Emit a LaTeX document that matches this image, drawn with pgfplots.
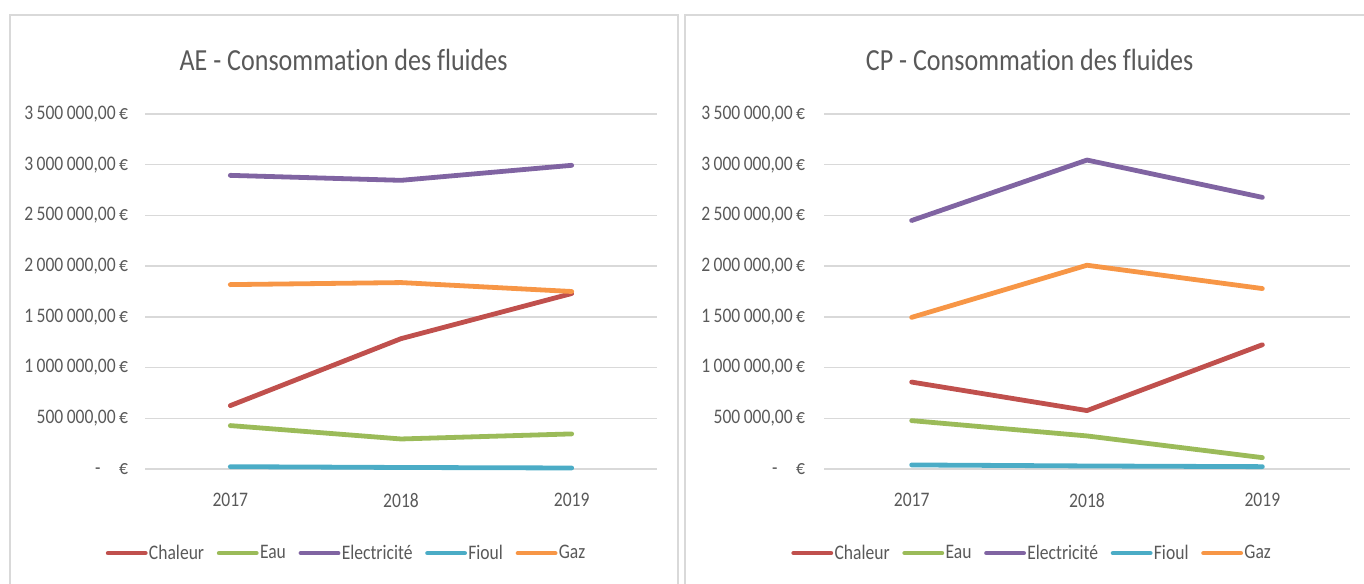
\documentclass[border=0pt]{standalone}
\usepackage{pgfplots}
\pgfplotsset{compat=1.18}
\usepackage{fontspec}
\setmainfont{Carlito}[FakeStretch=0.85, Ligatures={NoCommon}]
\definecolor{txt}{HTML}{595959}
\definecolor{grd}{HTML}{D9D9D9}
\definecolor{cChal}{HTML}{C0504D}
\definecolor{cEau}{HTML}{9BBB59}
\definecolor{cElec}{HTML}{8064A2}
\definecolor{cFioul}{HTML}{4BACC6}
\definecolor{cGaz}{HTML}{F79646}
\pgfplotsset{
  panel/.style={
    scale only axis,
    height=266.25pt,
    xmin=-0.5, xmax=2.5,
    ymin=0, ymax=3500000,
    scaled y ticks=false,
    axis line style={draw=none},
    major tick length=0pt,
    xtick={0,1,2},
    xticklabels={2017,2018,2019},
    ytick={0,500000,1000000,1500000,2000000,2500000,3000000,3500000},
    yticklabels={{-\hspace{0.9em}€},{500\,000,00\,€},{1\,000\,000,00\,€},{1\,500\,000,00\,€},{2\,000\,000,00\,€},{2\,500\,000,00\,€},{3\,000\,000,00\,€},{3\,500\,000,00\,€}},
    ymajorgrids,
    grid style={grd, line width=1.1pt},
    /pgf/number format/assume math mode=true,
    tick label style={font=\fontsize{15.5pt}{18pt}\selectfont, text=txt},
    xticklabel style={anchor=north, inner sep=0pt, yshift=-18pt},
    title style={font=\fontsize{23pt}{26pt}\selectfont, text=txt, anchor=base, inner sep=0pt},
    legend columns=-1,
    legend style={draw=none, fill=none, font=\fontsize{15.5pt}{18pt}\selectfont, text=txt, anchor=center,
      nodes={inner sep=1pt},
      /tikz/every even column/.append style={column sep=8.5pt}},
    legend image code/.code={\draw[#1, line width=3.4pt, line cap=round] (0pt,0pt) -- (28pt,0pt);},
    every axis plot/.append style={line width=3.6pt, line cap=round, line join=round, mark=none},
    clip=false,
  }
}
\begin{document}
\begin{tikzpicture}
\useasboundingbox (0,0) rectangle (1023pt,-438pt);
\draw[grd, line width=1.2pt] (7.5pt,-470pt) -- (7.5pt,-11.25pt) -- (508.5pt,-11.25pt) -- (508.5pt,-470pt);
\draw[grd, line width=1.2pt] (513.75pt,-470pt) -- (513.75pt,-11.25pt) -- (1040pt,-11.25pt);
\begin{axis}[panel,
  at={(108.75pt,-351.75pt)}, anchor=south west,
  width=384pt,
  yticklabel style={anchor=east, inner sep=0pt, xshift=-12.5pt},
  title={AE - Consommation des fluides},
  title style={at={(0.388,1.10)}},
  legend style={at={(0.393,-0.237)}},
]
\addplot[cChal] coordinates {(0,625000) (1,1285000) (2,1730000)};
\addlegendentry{Chaleur}
\addplot[cEau] coordinates {(0,428000) (1,296000) (2,346000)};
\addlegendentry{Eau}
\addplot[cElec] coordinates {(0,2895000) (1,2846000) (2,2994000)};
\addlegendentry{Electricité}
\addplot[cFioul] coordinates {(0,23000) (1,15000) (2,10000)};
\addlegendentry{Fioul}
\addplot[cGaz] coordinates {(0,1818000) (1,1838000) (2,1750000)};
\addlegendentry{Gaz}
\end{axis}
\begin{axis}[panel,
  at={(618pt,-351.75pt)}, anchor=south west,
  width=394.5pt,
  yticklabel style={anchor=east, inner sep=0pt, xshift=-14pt},
  title={CP - Consommation des fluides},
  title style={at={(0.391,1.10)}},
  legend style={at={(0.395,-0.237)}},
]
\addplot[cChal] coordinates {(0,857000) (1,576000) (2,1225000)};
\addlegendentry{Chaleur}
\addplot[cEau] coordinates {(0,477000) (1,326000) (2,112000)};
\addlegendentry{Eau}
\addplot[cElec] coordinates {(0,2450000) (1,3046000) (2,2678000)};
\addlegendentry{Electricité}
\addplot[cFioul] coordinates {(0,40000) (1,30000) (2,23000)};
\addlegendentry{Fioul}
\addplot[cGaz] coordinates {(0,1495000) (1,2009000) (2,1779000)};
\addlegendentry{Gaz}
\end{axis}
\end{tikzpicture}
\end{document}
